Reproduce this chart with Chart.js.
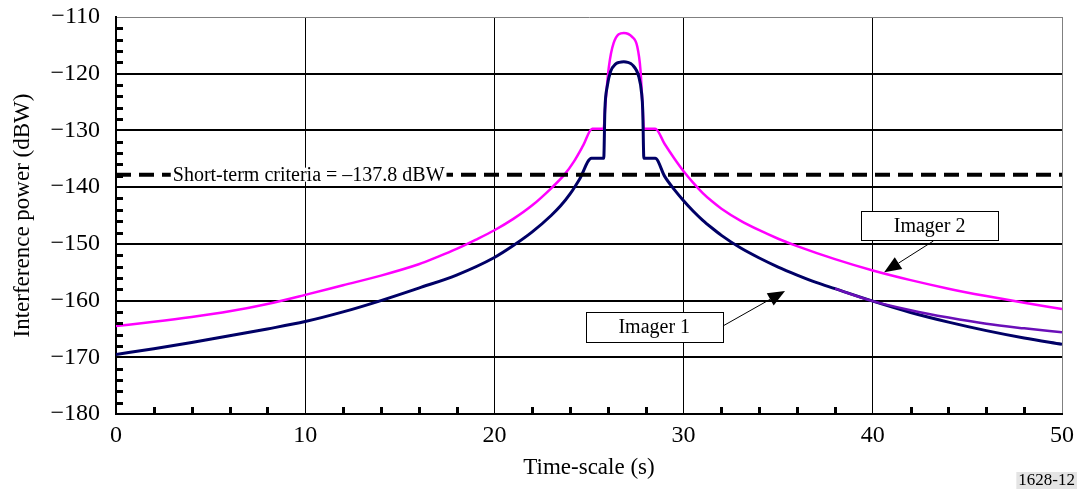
<!DOCTYPE html>
<html lang="en">
<head>
<meta charset="UTF-8">
<title>Interference power vs time-scale</title>
<style>
    * { margin: 0; padding: 0; box-sizing: border-box; }
    body { background: #fff; width: 1079px; height: 490px; overflow: hidden; }
</style>
</head>
<body>
<canvas id="chart" width="1079" height="490"></canvas>

<script src="https://cdn.jsdelivr.net/npm/chart.js"></script>
<script>
    // values
    const imager1Time = [0, 2, 4, 6, 8, 10, 12, 14, 16, 18, 20, 21, 22, 23, 23.5, 24, 24.5, 25.13, 25.78,
        25.84, 25.96, 26.14, 26.4, 26.6, 26.84, 27.05, 27.28, 27.63, 27.78, 27.84, 27.9, 28.5, 29, 29.5, 30, 30.5, 31,
        31.5, 32, 33, 34, 35, 36, 37, 38, 40, 42, 44, 46, 48, 50];
    const imager1Power = [-169.5, -168.5, -167.4, -166.2, -165.0, -163.7, -162.0, -160.0, -157.8, -155.5, -152.4, -150.3, -147.9, -145.0, -143.3, -141.2, -138.6, -134.9, -134.9,
        -126.4, -122.3, -119.6, -118.3, -118.0, -117.9, -118.0, -118.4, -120.5, -123.4, -126.4, -134.9, -134.9, -138.1, -140.4, -142.4, -144.2, -145.8,
        -147.2, -148.5, -150.7, -152.5, -154.1, -155.5, -156.8, -157.9, -160.1, -162.1, -163.8, -165.3, -166.6, -167.7];

    const imager2Time = [0, 2, 4, 6, 8, 10, 12, 14, 16, 17, 18, 19, 20, 21, 22, 23, 23.7, 24.2, 24.7, 25.17, 25.77,
        25.87, 26.05, 26.3, 26.84, 27.28, 27.55, 27.72, 27.84, 27.9, 28.5, 29, 29.5, 30, 30.5, 31, 31.5,
        32, 33, 34, 35, 36, 38, 40, 42, 44, 46, 48, 50];
    const imager2Power = [-164.5, -163.75, -162.9, -161.9, -160.6, -159.0, -157.3, -155.6, -153.6, -152.3, -150.9, -149.3, -147.6, -145.6, -143.2, -140.2, -137.8, -135.5, -132.6, -129.7, -129.7,
        -125.2, -118.8, -114.6, -112.8, -113.5, -115.2, -119.3, -126.4, -129.7, -129.7, -132.4, -134.9, -137.2, -139.2, -141.0, -142.5,
        -143.8, -145.9, -147.6, -149.1, -150.4, -152.7, -154.7, -156.4, -157.9, -159.2, -160.4, -161.5];

    // third trace, only visible where it leaves Imager 1
    const tailTime = [38, 40, 42, 44, 46, 48, 50];
    const tailPower = [-157.9, -160.1, -161.7, -163.0, -164.1, -164.9, -165.6];

    const criteriaTime = [0, 50];
    const criteriaPower = [-137.8, -137.8];

    const xTicks = [0, 10, 20, 30, 40, 50];
    const yTicks = [-180, -170, -160, -150, -140, -130, -120, -110];

    function toPoints(xs, ys) {
        return xs.map((t, i) => ({ x: t, y: ys[i] }));
    }

    function arrow(ctx, x1, y1, x2, y2) {
        const a = Math.atan2(y2 - y1, x2 - x1);
        const len = 17, half = 7;
        const bx = x2 - len * Math.cos(a), by = y2 - len * Math.sin(a);
        ctx.beginPath();
        ctx.moveTo(x1, y1);
        ctx.lineTo(bx, by);
        ctx.stroke();
        ctx.beginPath();
        ctx.moveTo(x2, y2);
        ctx.lineTo(bx + half * Math.sin(a), by - half * Math.cos(a));
        ctx.lineTo(bx - half * Math.sin(a), by + half * Math.cos(a));
        ctx.closePath();
        ctx.fill();
    }

    function labelBox(ctx, cx, cy, w, h, text) {
        ctx.fillStyle = '#fff';
        ctx.fillRect(cx - w / 2, cy - h / 2, w, h);
        ctx.strokeStyle = '#000';
        ctx.lineWidth = 1;
        ctx.strokeRect(Math.round(cx - w / 2) + 0.5, Math.round(cy - h / 2) + 0.5, w, h);
        ctx.fillStyle = '#000';
        ctx.textAlign = 'center';
        ctx.textBaseline = 'middle';
        ctx.fillText(text, cx, cy + 1);
    }

    // minor ticks, criteria label, callouts and figure number
    const extras = {
        id: 'extras',
        afterDraw(chart) {
            const { ctx } = chart;
            const x = chart.scales.x, y = chart.scales.y;
            ctx.save();
            ctx.fillStyle = '#000';
            for (let v = -178; v < -110; v += 2) {
                if (v % 10 === 0) continue;
                ctx.fillRect(x.left, Math.round(y.getPixelForValue(v)) - 1, 7, 3);
            }
            for (let t = 2; t < 50; t += 2) {
                if (t % 10 === 0) continue;
                ctx.fillRect(Math.round(x.getPixelForValue(t)) - 1, y.bottom - 7, 3, 7);
            }

            ctx.font = '20px "Liberation Serif", "Times New Roman", serif';
            const crit = 'Short-term criteria = \u2013137.8 dBW';
            const cx = x.getPixelForValue(3), cy = y.getPixelForValue(-137.8);
            const tw = ctx.measureText(crit).width;
            ctx.fillStyle = '#fff';
            ctx.fillRect(cx - 2, cy - 7, tw + 4, 14);
            ctx.fillStyle = '#000';
            ctx.textAlign = 'left';
            ctx.textBaseline = 'middle';
            ctx.fillText(crit, cx, cy + 1);

            ctx.strokeStyle = '#000';
            ctx.fillStyle = '#000';
            ctx.lineWidth = 1;
            arrow(ctx, x.getPixelForValue(43.2), y.getPixelForValue(-149.5), x.getPixelForValue(40.6), y.getPixelForValue(-155.0));
            arrow(ctx, x.getPixelForValue(32.07), y.getPixelForValue(-164.5), x.getPixelForValue(35.36), y.getPixelForValue(-158.3));
            labelBox(ctx, x.getPixelForValue(43.0), y.getPixelForValue(-146.85), 137, 29, 'Imager 2');
            labelBox(ctx, x.getPixelForValue(28.45), y.getPixelForValue(-164.7), 137, 30, 'Imager 1');

            ctx.font = '17px "Liberation Serif", "Times New Roman", serif';
            const fig = '1628-12';
            const fw = ctx.measureText(fig).width;
            ctx.fillStyle = '#e4e4e4';
            ctx.fillRect(1075 - fw - 2, 472, fw + 4, 17);
            ctx.fillStyle = '#000';
            ctx.textAlign = 'right';
            ctx.textBaseline = 'middle';
            ctx.fillText(fig, 1075, 481);
            ctx.restore();
        }
    };

    const serif = '"Liberation Serif", "Times New Roman", serif';

    new Chart(document.getElementById('chart').getContext('2d'), {
        type: 'line',
        data: {
            datasets: [
                {
                    label: 'Criteria',
                    data: toPoints(criteriaTime, criteriaPower),
                    borderColor: '#000',
                    borderWidth: 4,
                    borderDash: [15, 8],
                    pointRadius: 0
                },
                {
                    label: 'Imager 1 (alt)',
                    data: toPoints(tailTime, tailPower),
                    borderColor: '#6a0fb8',
                    borderWidth: 2.5,
                    pointRadius: 0,
                    cubicInterpolationMode: 'monotone'
                },
                {
                    label: 'Imager 1',
                    data: toPoints(imager1Time, imager1Power),
                    borderColor: '#000066',
                    borderWidth: 3,
                    pointRadius: 0,
                    cubicInterpolationMode: 'monotone'
                },
                {
                    label: 'Imager 2',
                    data: toPoints(imager2Time, imager2Power),
                    borderColor: '#ff00ff',
                    borderWidth: 2.5,
                    pointRadius: 0,
                    cubicInterpolationMode: 'monotone'
                }
            ]
        },
        options: {
            responsive: false,
            animation: false,
            layout: { padding: { top: 17, right: 17, left: 0, bottom: 0 } },
            plugins: {
                legend: { display: false },
                tooltip: { enabled: false }
            },
            scales: {
                x: {
                    type: 'linear',
                    min: 0,
                    max: 50,
                    afterFit: s => { s.height = 76; s.paddingLeft = 0; s.paddingRight = 0; },
                    afterBuildTicks: s => { s.ticks = xTicks.map(v => ({ value: v })); },
                    ticks: { color: '#000', padding: 7, font: { family: serif, size: 24 } },
                    grid: {
                        drawTicks: false,
                        color: c => (c.tick && c.tick.value === 50) ? '#808080' : '#000',
                        lineWidth: 1
                    },
                    border: { color: '#000', width: 2 },
                    title: {
                        display: true,
                        text: 'Time-scale (s)',
                        color: '#000',
                        font: { family: serif, size: 23 },
                        padding: { top: 0, bottom: 8 }
                    }
                },
                y: {
                    min: -180,
                    max: -110,
                    afterFit: s => { s.width = 116; s.paddingTop = 0; s.paddingBottom = 0; },
                    afterBuildTicks: s => { s.ticks = yTicks.map(v => ({ value: v })); },
                    ticks: {
                        color: '#000',
                        padding: 16,
                        font: { family: serif, size: 24 },
                        callback: v => '\u2212' + Math.abs(v)
                    },
                    grid: {
                        drawTicks: false,
                        color: c => (c.tick && c.tick.value === -110) ? '#808080' : '#000',
                        lineWidth: c => (c.tick && c.tick.value === -110) ? 1 : 2
                    },
                    border: { color: '#000', width: 2 },
                    title: {
                        display: true,
                        text: 'Interference power (dBW)',
                        color: '#000',
                        font: { family: serif, size: 23 },
                        padding: { top: 9, bottom: 0 }
                    }
                }
            }
        },
        plugins: [extras]
    });
</script>
</body>
</html>
